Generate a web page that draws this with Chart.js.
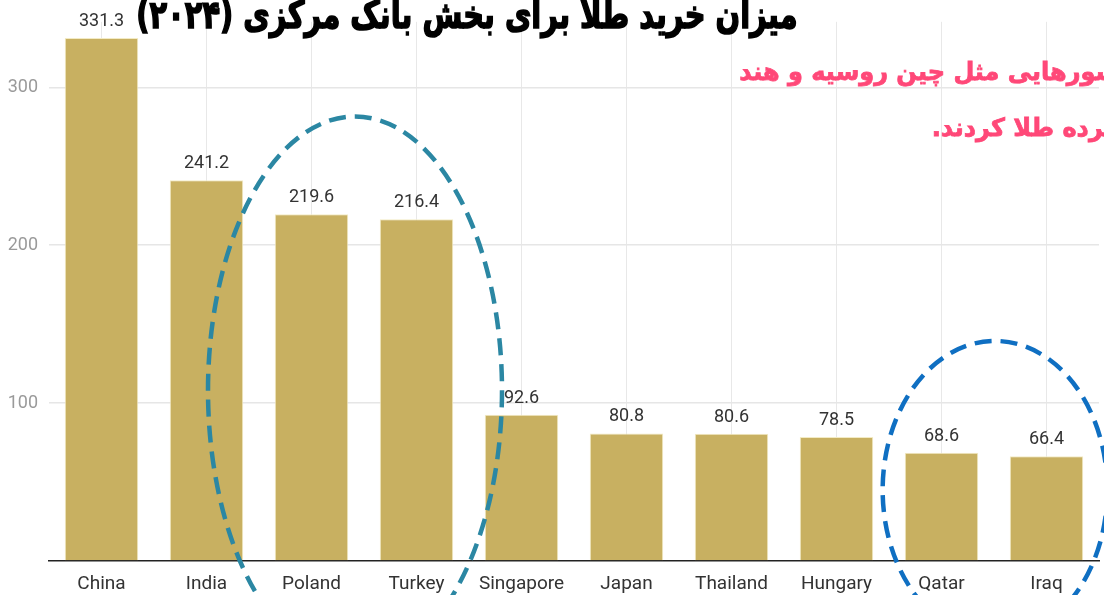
<!DOCTYPE html>
<html>
<head>
<meta charset="utf-8">
<script src="https://cdn.jsdelivr.net/npm/chart.js@4"></script>
<style>
  html, body { margin: 0; padding: 0; background: #fff; }
  #wrap { width: 1104px; height: 595px; position: relative; }
</style>
</head>
<body>
<div id="wrap"><canvas id="goldChart"></canvas></div>
<script>
// ===== DATA =====
const countries = ['China', 'India', 'Poland', 'Turkey', 'Singapore', 'Japan', 'Thailand', 'Hungary', 'Qatar', 'Iraq'];
const goldTonnes = [331.3, 241.2, 219.6, 216.4, 92.6, 80.8, 80.6, 78.5, 68.6, 66.4];
const yTicks = [100, 200, 300];
const titleText = 'میزان خرید طلا برای بخش بانک مرکزی (۲۰۲۴)';
const noteLines = ['کشورهایی مثل چین روسیه و هند', 'گسترده طلا کردند.'];

// ===== PLUGINS =====
const valueLabels = {
  id: 'valueLabels',
  afterDatasetsDraw(chart) {
    const ctx = chart.ctx;
    const meta = chart.getDatasetMeta(0);
    ctx.save();
    ctx.font = '18px Roboto';
    ctx.fillStyle = '#333';
    ctx.textAlign = 'center';
    ctx.textBaseline = 'alphabetic';
    meta.data.forEach((bar, i) => {
      ctx.fillText(goldTonnes[i].toFixed(1), bar.x, bar.y - 12);
    });
    ctx.restore();
  }
};

// dashed ellipses, anchored to the scales
function dashedEllipse(ctx, cx, cy, rx, ry, color) {
  ctx.save();
  ctx.strokeStyle = color;
  ctx.lineWidth = 4.5;
  ctx.setLineDash([17, 9]);
  ctx.beginPath();
  ctx.ellipse(cx, cy, rx, ry, 0, 0, Math.PI * 2);
  ctx.stroke();
  ctx.restore();
}

function noteLine(ctx, text, right, baseline) {
  ctx.save();
  ctx.translate(right, baseline);
  ctx.scale(0.96, 1);
  ctx.fillText(text, 0, 0);
  ctx.strokeText(text, 0, 0);
  ctx.restore();
}

const overlay = {
  id: 'overlay',
  afterDraw(chart) {
    const ctx = chart.ctx;
    const x = chart.scales.x, y = chart.scales.y;
    const step = x.getPixelForValue(1) - x.getPixelForValue(0);

    // Poland + Turkey
    const c1 = (x.getPixelForValue(2) + x.getPixelForValue(3)) / 2 - 9;
    dashedEllipse(ctx, c1, y.getPixelForValue(108), step * 1.4, 274, '#2b87a3');
    // Qatar + Iraq
    const c2 = (x.getPixelForValue(8) + x.getPixelForValue(9)) / 2 + 1;
    dashedEllipse(ctx, c2, y.getPixelForValue(45), step * 1.07, 149, '#0f6fc2');

    // title (cropped at top), squeezed to the width of the original heavy face
    ctx.save();
    ctx.translate(467, 28);
    ctx.scale(0.78, 1.05);
    ctx.font = 'bold 37px "DejaVu Sans"';
    ctx.fillStyle = '#000';
    ctx.strokeStyle = '#000';
    ctx.lineWidth = 1.6;
    ctx.textAlign = 'center';
    ctx.direction = 'rtl';
    ctx.fillText(titleText, 0, 0);
    ctx.strokeText(titleText, 0, 0);
    ctx.restore();

    // pink note, running off the right edge
    ctx.save();
    ctx.font = 'bold 25px "DejaVu Sans"';
    ctx.fillStyle = '#ff4878';
    ctx.strokeStyle = '#ff4878';
    ctx.lineWidth = 0.8;
    ctx.textAlign = 'right';
    ctx.direction = 'rtl';
    noteLine(ctx, noteLines[0], 1134, 80);
    noteLine(ctx, noteLines[1], 1152, 136);
    ctx.restore();
  }
};

// ===== CHART =====
const chartCtx = document.getElementById('goldChart').getContext('2d');
new Chart(chartCtx, {
  type: 'bar',
  data: {
    labels: countries,
    datasets: [{
      data: goldTonnes,
      backgroundColor: '#c8b061',
      borderColor: '#f3ebc4',
      borderWidth: 1,
      categoryPercentage: 1,
      barPercentage: 0.7
    }]
  },
  options: {
    responsive: true,
    maintainAspectRatio: false,
    animation: false,
    layout: { padding: { left: 0, right: 5, top: 0, bottom: 0 } },
    plugins: { legend: { display: false }, tooltip: { enabled: false } },
    scales: {
      x: {
        grid: { offset: false, color: '#e8e8e8', drawTicks: false },
        border: { color: '#222', width: 1.5 },
        ticks: { color: '#333', font: { family: 'Roboto', size: 19 }, padding: 12 },
        afterFit(scale) { scale.height = 34; }
      },
      y: {
        min: 0,
        max: 341.5,
        afterBuildTicks(scale) {
          scale.ticks = [0].concat(yTicks).map(v => ({ value: v }));
        },
        grid: {
          drawTicks: false,
          color: ctx => ctx.tick && ctx.tick.value === 0 ? 'rgba(0,0,0,0)' : '#e6e6e6',
          lineWidth: 1.5
        },
        border: { display: false },
        ticks: {
          color: '#9a9a9a',
          font: { family: 'Roboto', size: 18 },
          padding: 11,
          callback: v => (v === 0 ? '' : v)
        },
        afterFit(scale) { scale.width = 49; }
      }
    }
  },
  plugins: [valueLabels, overlay]
});
</script>
</body>
</html>
